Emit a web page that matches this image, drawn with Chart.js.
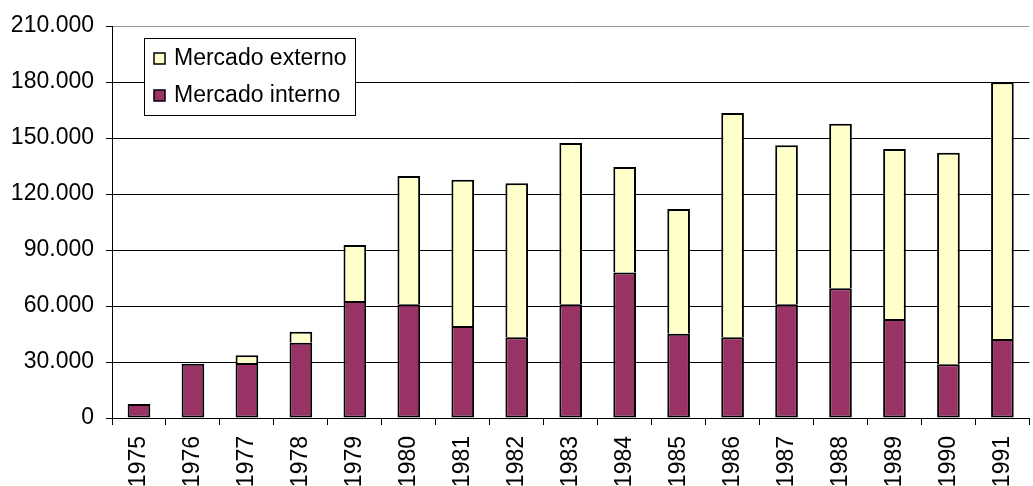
<!DOCTYPE html>
<html>
<head>
<meta charset="utf-8">
<script src="https://cdn.jsdelivr.net/npm/chart.js@4/dist/chart.umd.min.js"></script>
<style>
html,body{margin:0;padding:0;background:#fff;overflow:hidden;}
#wrap{width:1033px;height:486px;overflow:hidden;position:relative;}
canvas{display:block;}
</style>
</head>
<body>
<div id="wrap"><canvas id="c" width="1041" height="486" style="width:1041px;height:486px"></canvas></div>
<script>
const categories = ['1975','1976','1977','1978','1979','1980','1981','1982','1983','1984','1985','1986','1987','1988','1989','1990','1991'];
const mercadoInterno = [7500, 29000, 29500, 40300, 62700, 60900, 49300, 43200, 60900, 78000, 45200, 43200, 60900, 69500, 53000, 28800, 42300];
const mercadoExterno = [0, 0, 4100, 5900, 30000, 68700, 78400, 82500, 86400, 56500, 66800, 120200, 85200, 88200, 91100, 113300, 137500];
const yTicks = [0, 30000, 60000, 90000, 120000, 150000, 180000, 210000];
const legendOrder = [1, 0];

const FONT = "'Liberation Sans', Arial, sans-serif";
const FS = 23;

function fmt(v){
  return String(v).replace(/\B(?=(\d{3})+(?!\d))/g, '.');
}

const boxLegend = {
  id: 'boxLegend',
  afterDraw(chart){
    const ctx = chart.ctx;
    const ca = chart.chartArea;
    const x0 = ca.left + 32, y0 = ca.top + 12, w = 211, h = 77;
    ctx.save();
    ctx.fillStyle = '#fff';
    ctx.fillRect(x0, y0, w, h);
    ctx.strokeStyle = '#000';
    ctx.lineWidth = 1;
    ctx.strokeRect(x0 + 0.5, y0 + 0.5, w, h);
    ctx.font = FS + 'px ' + FONT;
    ctx.textBaseline = 'middle';
    ctx.textAlign = 'left';
    legendOrder.forEach((di, i) => {
      const ds = chart.data.datasets[di];
      const cy = y0 + 20 + i * 37;
      ctx.fillStyle = ds.backgroundColor;
      ctx.fillRect(x0 + 10, cy - 5, 11, 11);
      ctx.strokeStyle = '#000';
      ctx.lineWidth = 1.5;
      ctx.strokeRect(x0 + 10, cy - 5, 11, 11);
      ctx.fillStyle = '#000';
      ctx.fillText(ds.label, x0 + 30, cy + 1);
    });
    ctx.restore();
  }
};

new Chart(document.getElementById('c'), {
  type: 'bar',
  data: {
    labels: categories,
    datasets: [
      {label: 'Mercado interno', data: mercadoInterno, backgroundColor: '#993366', borderColor: '#000', borderWidth: 2, borderSkipped: false, barPercentage: 0.42, categoryPercentage: 1},
      {label: 'Mercado externo', data: mercadoExterno, backgroundColor: '#FFFFCC', borderColor: '#000', borderWidth: 2, borderSkipped: 'bottom', barPercentage: 0.42, categoryPercentage: 1}
    ]
  },
  options: {
    responsive: false,
    animation: false,
    devicePixelRatio: 1,
    layout: {padding: {top: 26, right: 0, left: 0, bottom: 0}},
    plugins: {legend: {display: false}, tooltip: {enabled: false}},
    scales: {
      x: {
        stacked: true,
        afterFit(s){ s.height = 68; },
        grid: {display: true, drawOnChartArea: false, drawTicks: true, tickLength: 7, offset: true, color: '#000', lineWidth: 1},
        border: {color: '#000', width: 1},
        ticks: {color: '#000', font: {family: FONT, size: FS}, minRotation: 90, maxRotation: 90, padding: 11, autoSkip: false}
      },
      y: {
        stacked: true,
        min: 0, max: 210000,
        afterFit(s){ s.width = 112; },
        afterBuildTicks(s){ s.ticks = yTicks.map(v => ({value: v})); },
        grid: {color: (c) => (c.tick && c.tick.value === 210000) ? '#999' : '#000', lineWidth: 1, drawTicks: true, tickLength: 6, tickColor: '#000'},
        border: {color: '#000', width: 1},
        ticks: {color: '#000', font: {family: FONT, size: FS}, padding: 12, callback: (v) => fmt(v)}
      }
    }
  },
  plugins: [boxLegend]
});
</script>
</body>
</html>
